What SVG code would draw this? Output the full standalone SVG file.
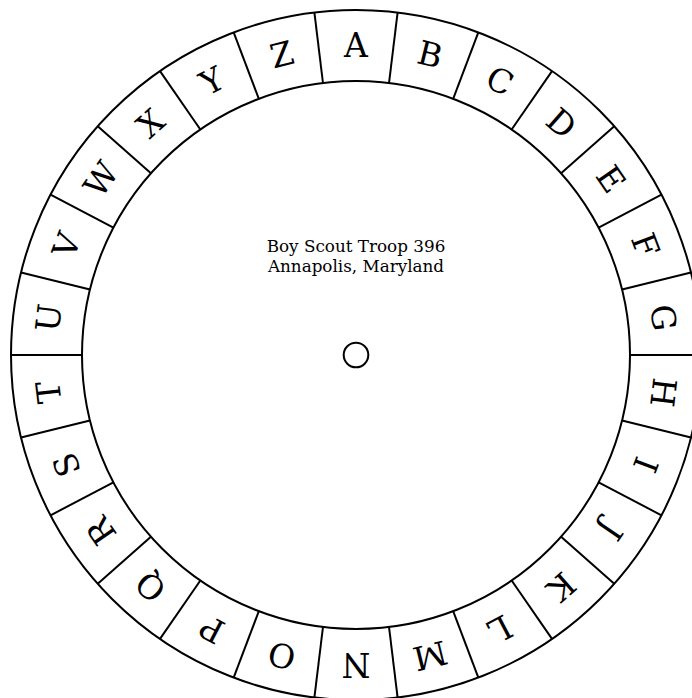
<svg xmlns="http://www.w3.org/2000/svg" width="692" height="698" viewBox="0 0 692 698">
  <style>
    .ring { fill: none; stroke: #000; stroke-width: 2; }
    .div line { stroke: #000; stroke-width: 2; }
    .letter { font-family: "DejaVu Serif", "Liberation Serif", serif; font-size: 33px; fill: #000; text-anchor: middle; }
    .title { font-family: "DejaVu Serif", "Liberation Serif", serif; font-size: 16.8px; fill: #000; text-anchor: middle; }
  </style>
  <rect width="692" height="698" fill="#fff"/>
  <g id="wheel">
    <circle class="ring" cx="356" cy="355" r="345"/>
    <circle class="ring" cx="356" cy="355" r="274"/>
    <circle class="ring" cx="356" cy="355" r="12.3"/>
  </g>
  <g id="dividers" class="div">
    <line x1="356" y1="81" x2="356" y2="10" transform="rotate(6.923 356 355)"/>
    <line x1="356" y1="81" x2="356" y2="10" transform="rotate(20.769 356 355)"/>
    <line x1="356" y1="81" x2="356" y2="10" transform="rotate(34.615 356 355)"/>
    <line x1="356" y1="81" x2="356" y2="10" transform="rotate(48.462 356 355)"/>
    <line x1="356" y1="81" x2="356" y2="10" transform="rotate(62.308 356 355)"/>
    <line x1="356" y1="81" x2="356" y2="10" transform="rotate(76.154 356 355)"/>
    <line x1="356" y1="81" x2="356" y2="10" transform="rotate(90 356 355)"/>
    <line x1="356" y1="81" x2="356" y2="10" transform="rotate(103.846 356 355)"/>
    <line x1="356" y1="81" x2="356" y2="10" transform="rotate(117.692 356 355)"/>
    <line x1="356" y1="81" x2="356" y2="10" transform="rotate(131.538 356 355)"/>
    <line x1="356" y1="81" x2="356" y2="10" transform="rotate(145.385 356 355)"/>
    <line x1="356" y1="81" x2="356" y2="10" transform="rotate(159.231 356 355)"/>
    <line x1="356" y1="81" x2="356" y2="10" transform="rotate(173.077 356 355)"/>
    <line x1="356" y1="81" x2="356" y2="10" transform="rotate(186.923 356 355)"/>
    <line x1="356" y1="81" x2="356" y2="10" transform="rotate(200.769 356 355)"/>
    <line x1="356" y1="81" x2="356" y2="10" transform="rotate(214.615 356 355)"/>
    <line x1="356" y1="81" x2="356" y2="10" transform="rotate(228.462 356 355)"/>
    <line x1="356" y1="81" x2="356" y2="10" transform="rotate(242.308 356 355)"/>
    <line x1="356" y1="81" x2="356" y2="10" transform="rotate(256.154 356 355)"/>
    <line x1="356" y1="81" x2="356" y2="10" transform="rotate(270 356 355)"/>
    <line x1="356" y1="81" x2="356" y2="10" transform="rotate(283.846 356 355)"/>
    <line x1="356" y1="81" x2="356" y2="10" transform="rotate(297.692 356 355)"/>
    <line x1="356" y1="81" x2="356" y2="10" transform="rotate(311.538 356 355)"/>
    <line x1="356" y1="81" x2="356" y2="10" transform="rotate(325.385 356 355)"/>
    <line x1="356" y1="81" x2="356" y2="10" transform="rotate(339.231 356 355)"/>
    <line x1="356" y1="81" x2="356" y2="10" transform="rotate(353.077 356 355)"/>
  </g>
  <g id="letters">
    <text class="letter" x="356" y="57" transform="rotate(0 356 355)">A</text>
    <text class="letter" x="356" y="57" transform="rotate(13.846 356 355)">B</text>
    <text class="letter" x="356" y="57" transform="rotate(27.692 356 355)">C</text>
    <text class="letter" x="356" y="57" transform="rotate(41.538 356 355)">D</text>
    <text class="letter" x="356" y="57" transform="rotate(55.385 356 355)">E</text>
    <text class="letter" x="356" y="57" transform="rotate(69.231 356 355)">F</text>
    <text class="letter" x="356" y="57" transform="rotate(83.077 356 355)">G</text>
    <text class="letter" x="356" y="57" transform="rotate(96.923 356 355)">H</text>
    <text class="letter" x="356" y="57" transform="rotate(110.769 356 355)">I</text>
    <text class="letter" x="356" y="57" transform="rotate(124.615 356 355)">J</text>
    <text class="letter" x="356" y="57" transform="rotate(138.462 356 355)">K</text>
    <text class="letter" x="356" y="57" transform="rotate(152.308 356 355)">L</text>
    <text class="letter" x="356" y="57" transform="rotate(166.154 356 355)">M</text>
    <text class="letter" x="356" y="57" transform="rotate(180 356 355)">N</text>
    <text class="letter" x="356" y="57" transform="rotate(193.846 356 355)">O</text>
    <text class="letter" x="356" y="57" transform="rotate(207.692 356 355)">P</text>
    <text class="letter" x="356" y="57" transform="rotate(221.538 356 355)">Q</text>
    <text class="letter" x="356" y="57" transform="rotate(235.385 356 355)">R</text>
    <text class="letter" x="356" y="57" transform="rotate(249.231 356 355)">S</text>
    <text class="letter" x="356" y="57" transform="rotate(263.077 356 355)">T</text>
    <text class="letter" x="356" y="57" transform="rotate(276.923 356 355)">U</text>
    <text class="letter" x="356" y="57" transform="rotate(290.769 356 355)">V</text>
    <text class="letter" x="356" y="57" transform="rotate(304.615 356 355)">W</text>
    <text class="letter" x="356" y="57" transform="rotate(318.462 356 355)">X</text>
    <text class="letter" x="356" y="57" transform="rotate(332.308 356 355)">Y</text>
    <text class="letter" x="356" y="57" transform="rotate(346.154 356 355)">Z</text>
  </g>
  <g id="title">
    <text class="title" x="356" y="252">Boy Scout Troop 396</text>
    <text class="title" x="356" y="272">Annapolis, Maryland</text>
  </g>
</svg>
